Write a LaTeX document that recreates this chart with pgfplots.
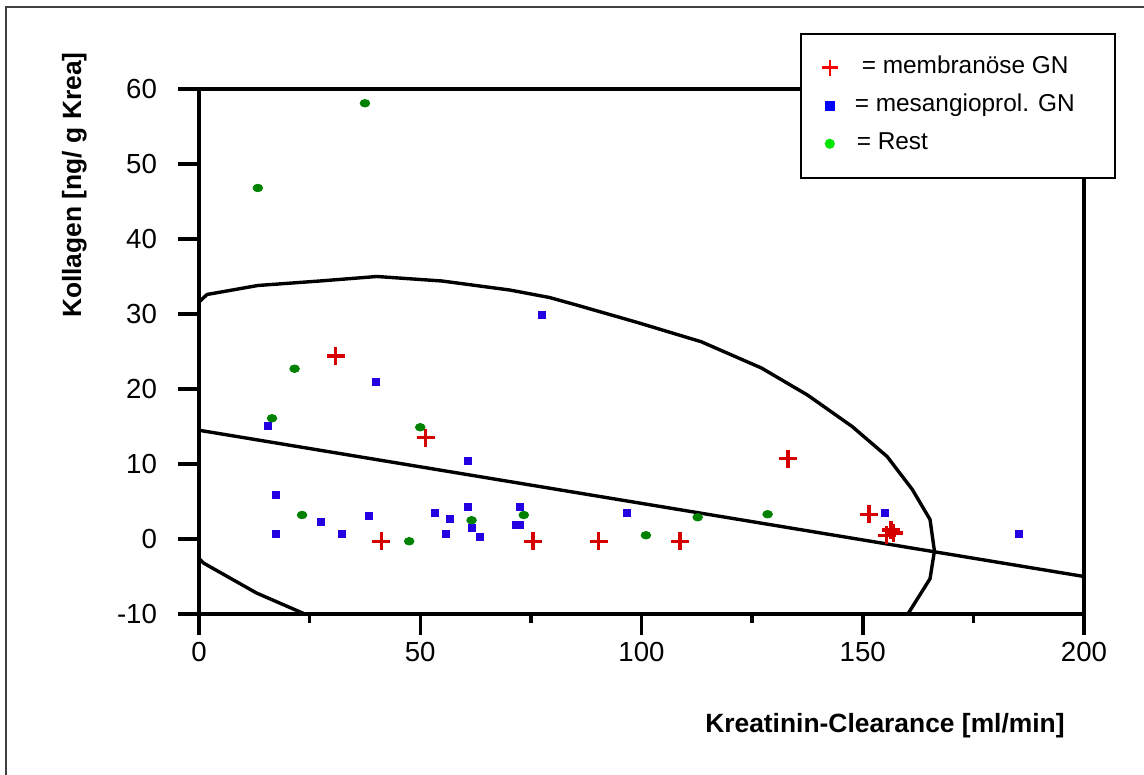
\documentclass[border=0pt]{standalone}
\usepackage{fontspec}
\setmainfont{Liberation Sans}
\usepackage{pgfplots}
\pgfplotsset{compat=1.18}
\definecolor{mred}{RGB}{215,0,0}
\definecolor{mblue}{RGB}{35,0,225}
\definecolor{mgreen}{RGB}{0,130,0}
\definecolor{lgreen}{RGB}{0,230,0}
\begin{document}
\begin{tikzpicture}[x=1pt,y=1pt]
\useasboundingbox (-99.5,-80.5) rectangle (472.5,307);
\draw[line width=0.75pt, black!75] (-96.5,-90) -- (-96.5,303.5) -- (480,303.5);
\begin{axis}[
  at={(0,0)}, anchor=south west,
  scale only axis, width=442.5pt, height=262.5pt,
  xmin=0, xmax=200, ymin=-10, ymax=60,
  xtick={0,50,100,150,200}, ytick={-10,0,10,20,30,40,50,60},
  minor xtick={25,75,125,175},
  tick align=outside, tick pos=left,
  major tick length=10.5pt, minor tick length=4.5pt,
  axis line style={line width=1.75pt},
  tick style={black, line width=1.75pt},
  /pgf/number format/assume math mode=true,
  tick label style={font=\fontsize{13.8}{16}\selectfont},
  yticklabel style={xshift=-7pt},
  xlabel={Kreatinin-Clearance [ml/min]},
  ylabel={Kollagen [ng/ g Krea]},
  every axis x label/.style={at={(axis description cs:0.7751,-0.2248)}, anchor=base, font=\fontsize{13.2}{16}\selectfont\bfseries},
  every axis y label/.style={at={(axis description cs:-0.1333,0.5505)}, rotate=90, anchor=base west, font=\fontsize{13.2}{16}\selectfont\bfseries},
  legend style={at={(axis description cs:0.6791,1.1067)}, anchor=north west, draw=black, line width=0.8pt, fill=white,
    font=\fontsize{12.2}{14}\selectfont, inner xsep=10.5pt, inner ysep=11pt, row sep=7pt,
    nodes={text height=9pt, text depth=3pt, inner sep=0pt},
    /tikz/every odd column/.append style={column sep=8.5pt}},
  legend cell align=left,
]
\addplot[only marks, mark=+, mark size=4.5pt, mark options={mred, line width=1.6pt},
  legend image code/.code={\draw[mark=+, mark size=4pt, mark options={red, line width=1.3pt}] plot coordinates {(0.3cm,0cm)};}]
coordinates {(30.9,24.4) (51.2,13.5) (41.2,-0.3) (75.5,-0.3) (90.3,-0.3) (108.7,-0.3) (133.1,10.7) (151.4,3.3) (155.4,0.5) (156.4,1.2) (157.0,0.8)};
\addlegendentry{\hspace{3.5pt}= membranöse GN}
\addplot[only marks, mark=square*, mark size=1.75pt, mark options={mblue, fill=mblue, line width=0pt},
  legend image code/.code={\fill[blue] (0.3cm-2pt,-2pt) rectangle (0.3cm+2pt,2pt);}]
coordinates {(77.6,29.9) (40.0,20.9) (15.7,15.1) (60.9,10.4) (17.4,5.8) (17.4,0.7) (27.5,2.3) (32.4,0.7) (38.4,3.0) (53.4,3.4) (55.8,0.7) (56.7,2.6) (60.9,4.2) (61.7,1.5) (63.4,0.3) (72.5,4.2) (71.6,1.9) (72.6,1.9) (96.8,3.5) (155.1,3.5) (185.3,0.7)};
\addlegendentry{\makebox[119.5pt][l]{= mesangioprol. GN}}
\addplot[only marks, mark=*, mark size=2.1pt, mark options={mgreen, fill=mgreen, xscale=1.15, yscale=0.9},
  legend image code/.code={\fill[lgreen] (0.3cm,0cm) circle (2.1pt);}]
coordinates {(13.3,46.8) (37.5,58.1) (21.6,22.7) (16.5,16.1) (50.0,14.9) (23.3,3.2) (47.5,-0.3) (61.6,2.5) (73.4,3.2) (101.0,0.5) (112.7,2.9) (128.5,3.3)};
\addlegendentry{\hspace{1pt}= Rest}
\addplot[black, line width=1.7pt, sharp plot, forget plot] coordinates {(0,14.5) (200,-5)};
\addplot[black, line width=1.7pt, sharp plot, forget plot] coordinates {(-1,30.5) (0.2,31.7) (1.8,32.6) (13.3,33.8) (27.3,34.4) (40.2,35.0) (54.9,34.4) (70.2,33.2) (79.2,32.2) (85.3,31.2) (98.9,28.9) (113.5,26.3) (127.1,22.8) (137.5,19.2) (147.6,15.0) (155.5,11.0) (161.2,6.6) (165.2,2.6) (166.2,-1.6) (165.2,-5.3) (160.2,-10.0) (159,-11.5)};
\addplot[black, line width=1.7pt, sharp plot, forget plot] coordinates {(-1,-1.8) (0,-2.6) (1,-3.2) (13.0,-7.2) (24.3,-10.1) (26,-10.6)};
\end{axis}
\end{tikzpicture}
\end{document}
